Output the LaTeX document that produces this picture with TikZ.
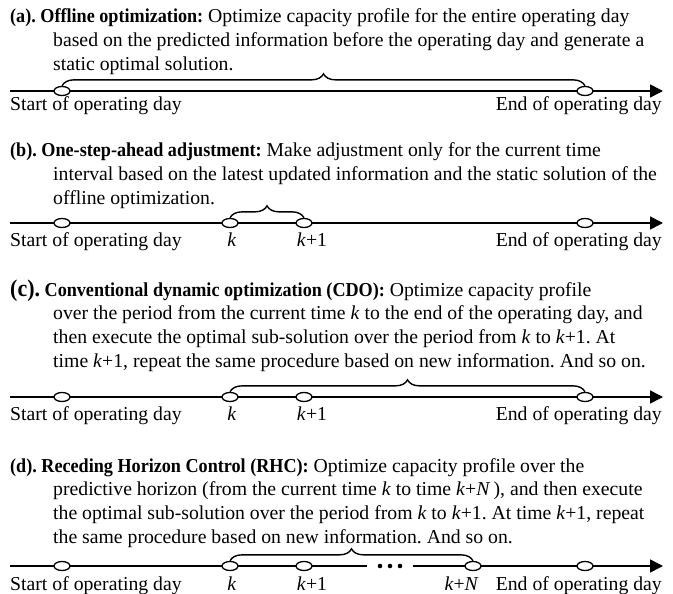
\documentclass[tikz,border=0pt]{standalone}
\usepackage{fontspec}
\setmainfont[BoldFeatures={FakeStretch=0.92}]{Liberation Serif}
\usetikzlibrary{positioning,arrows.meta,shapes.geometric,decorations.pathreplacing}
\newcommand{\hangpar}[1]{\parbox[t]{662bp}{\raggedright\hangindent=43bp\hangafter=1 #1}}

\begin{document}
\frenchspacing
\begin{tikzpicture}[
  x=1bp, y=-1bp,
  desc/.style={anchor=base west, inner sep=0pt, font=\fontsize{19.8}{24}\selectfont},
  lbl/.style={inner sep=0pt, font=\fontsize{19.8}{24}\selectfont},
  tick/.style={draw, ellipse, fill=white, line width=1.3bp, minimum width=16bp,
    minimum height=9bp, inner sep=0pt},
  axis/.style={-{Triangle[length=13bp,width=13bp]}, line width=1.6bp},
  brc/.style={decorate, decoration={brace, amplitude=12bp}, line width=1.4bp}
]
\useasboundingbox (0,0) rectangle (673,594);

% (a)
\node[desc] (atxt) at (10,23) {\hangpar{%
\textbf{(a). Offline optimization:} Optimize capacity profile for the entire operating day\newline
based on the predicted information before the operating day and generate a\newline
static optimal solution.}};
\coordinate (a0) at (10,91);
\coordinate (aT) at (663,91);
\draw[axis] (a0) -- (aT);
\node[tick] (aS) at (62,91) {};
\node[tick] (aE) at (585,91) {};
\draw[brc] (aS.north) -- (aE.north);
\node[lbl, anchor=base west] (aSl) at (10,111) {Start of operating day};
\node[lbl, anchor=base east] (aEl) at (662,111) {End of operating day};

% (b)
\node[desc] (btxt) at (10,157) {\hangpar{%
\textbf{(b). One-step-ahead adjustment:} Make adjustment only for the current time\newline
interval based on the latest updated information and the static solution of the\newline
offline optimization.}};
\coordinate (b0) at (10,223);
\coordinate (bT) at (663,223);
\draw[axis] (b0) -- (bT);
\node[tick] (bS) at (62,223) {};
\node[tick] (bk) at (230,223) {};
\node[tick] (bk1) at (304,223) {};
\node[tick] (bE) at (585,223) {};
\draw[brc] (bk.north) -- (bk1.north);
\node[lbl, anchor=base west] (bSl) at (10,246) {Start of operating day};
\node[lbl, anchor=base] (bkl) at (232,246) {\textit{k}};
\node[lbl, anchor=base] (bk1l) at (312,246) {\textit{k}+1};
\node[lbl, anchor=base east] (bEl) at (662,246) {End of operating day};

% (c)
\node[desc] (ctxt) at (10,296) {\hangpar{%
\textbf{{\fontsize{24}{25}\selectfont(c).} Conventional dynamic optimization (CDO):} Optimize capacity profile\newline
over the period from the current time \textit{k} to the end of the operating day, and\newline
then execute the optimal sub-solution over the period from \textit{k} to \textit{k}+1. At\newline
time \textit{k}+1, repeat the same procedure based on new information. And so on.}};
\coordinate (c0) at (10,397);
\coordinate (cT) at (663,397);
\draw[axis] (c0) -- (cT);
\node[tick] (cS) at (62,397) {};
\node[tick] (ck) at (230,397) {};
\node[tick] (ck1) at (304,397) {};
\node[tick] (cE) at (585,397) {};
\draw[brc] (ck.north) -- (cE.north);
\node[lbl, anchor=base west] (cSl) at (10,420) {Start of operating day};
\node[lbl, anchor=base] (ckl) at (232,420) {\textit{k}};
\node[lbl, anchor=base] (ck1l) at (312,420) {\textit{k}+1};
\node[lbl, anchor=base east] (cEl) at (662,420) {End of operating day};

% (d)
\node[desc] (dtxt) at (10,472) {\hangpar{%
\textbf{(d). Receding Horizon Control (RHC):} Optimize capacity profile over the\newline
predictive horizon (from the current time \textit{k} to time \textit{k}+\textit{N}\,), and then execute\newline
the optimal sub-solution over the period from \textit{k} to \textit{k}+1. At time \textit{k}+1, repeat\newline
the same procedure based on new information. And so on.}};
\coordinate (d0) at (10,566);
\coordinate (dT) at (663,566);
\draw[axis] (d0) -- (dT);
\node[fill=white, minimum width=46bp, minimum height=8bp, inner sep=0pt] (dd) at (390,566) {};
\foreach \dx in {-10,0,10}
  \fill (dd) ++(\dx,0) circle (2.3bp);
\node[tick] (dS) at (62,566) {};
\node[tick] (dk) at (230,566) {};
\node[tick] (dk1) at (304,566) {};
\node[tick] (dkN) at (473,566) {};
\node[tick] (dE) at (585,566) {};
\draw[brc] (dk.north) -- (dkN.north);
\node[lbl, anchor=base west] (dSl) at (10,590) {Start of operating day};
\node[lbl, anchor=base] (dkl) at (232,590) {\textit{k}};
\node[lbl, anchor=base] (dk1l) at (312,590) {\textit{k}+1};
\node[lbl, anchor=base east] (dkNl) at (479,590) {\textit{k}+\textit{N}};
\node[lbl, anchor=base east] (dEl) at (662,590) {End of operating day};
\end{tikzpicture}
\end{document}
